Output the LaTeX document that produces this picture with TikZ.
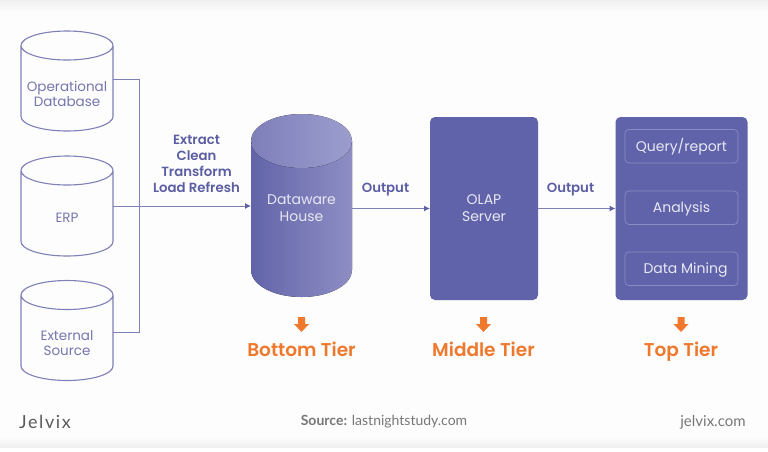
\documentclass[tikz,border=0pt]{standalone}
\usepackage{fontspec}
\setmainfont{Poppins}[BoldFont={Poppins SemiBold}]
\newfontfamily\footfont{Lato}
\newfontfamily\logofont{Lato}[LetterSpace=9]
\usetikzlibrary{arrows.meta,positioning}
\definecolor{bgc}{HTML}{FDFDFD}
\definecolor{edgec}{HTML}{F0F0F0}
\definecolor{cyl}{HTML}{8080B8}
\definecolor{lnc}{HTML}{8080B8}
\definecolor{tipc}{HTML}{5F60A8}
\definecolor{pan}{HTML}{6163AA}
\definecolor{inner}{HTML}{8A8CC2}
\definecolor{lab}{HTML}{7676AE}
\definecolor{blab}{HTML}{5C5EA3}
\definecolor{wt}{HTML}{E8E8F4}
\definecolor{org}{HTML}{F0782D}
\definecolor{grayt}{HTML}{777777}
\definecolor{dl}{HTML}{6264A9}
\definecolor{dr}{HTML}{8E8EC4}
\definecolor{tl}{HTML}{7E7FB9}
\definecolor{tr}{HTML}{9C9DCE}
\tikzset{
  every node/.style={inner sep=0pt,outer sep=0pt,align=center},
  cylbox/.style={minimum width=92pt,minimum height=100pt},
  celabel/.style={font=\fontsize{13.5}{15.5}\selectfont,text=lab},
  bluelabel/.style={font=\fontsize{13.3}{16}\selectfont\bfseries,text=blab},
  whitelabel/.style={font=\fontsize{14}{17}\selectfont,text=wt},
  panel/.style={fill=pan,rounded corners=5pt},
  innerbox/.style={draw=inner,line width=.7pt,rounded corners=4pt,minimum width=113pt,minimum height=33.5pt,text height=10pt,text depth=0pt},
  tier/.style={font=\fontsize{18.5}{20}\selectfont\bfseries,text=org,anchor=base},
  conn/.style={draw=lnc,line width=1pt},
  arr/.style={conn,-{Latex[length=6pt,width=6pt,color=tipc]}},
  foot/.style={font=\footfont\fontsize{14}{16}\selectfont,text=grayt},
}
\newcommand{\dbcyl}[5]{% name, center x, center y, label y, label
  \node[cylbox] (#1) at (#2,#3) {};
  \node[celabel] (#1t) at (#2,#4) {#5};
  \draw[cyl,line width=1.1pt]
    ([yshift=-14.5pt]#1.north west) -- ([yshift=14.5pt]#1.south west)
    arc[start angle=180,end angle=360,x radius=46pt,y radius=14.5pt]
    -- ([yshift=-14.5pt]#1.north east)
    arc[start angle=0,end angle=360,x radius=46pt,y radius=14.5pt];
}
\newcommand{\tierarrow}[2]{% cx, top y
  \fill[org] (#1-3.5,#2) -- (#1+3.5,#2) -- (#1+3.5,#2+7) -- (#1+7.5,#2+7) -- (#1,#2+15) -- (#1-7.5,#2+7) -- (#1-3.5,#2+7) -- cycle;
}
\begin{document}
\begin{tikzpicture}[x=1pt,y=-1pt]
\useasboundingbox (0,0) rectangle (768,451);
\fill[bgc] (0,0) rectangle (768,451);
\fill[top color=edgec,bottom color=bgc] (0,0) rectangle (768,12);
\fill[top color=bgc,bottom color=edgec] (0,436) rectangle (768,447);
\fill[white] (0,448) rectangle (768,451);

\dbcyl{op}{67}{81}{94}{Operational\\Database}
\dbcyl{erp}{67}{206}{218}{ERP}
\dbcyl{ext}{67}{330.5}{343}{External\\Source}

% Warehouse cylinder
\node[minimum width=101pt,minimum height=183pt] (dw) at (301.5,205.5) {};
\fill[left color=dl,right color=dr]
  ([yshift=-27pt]dw.north west) -- ([yshift=27pt]dw.south west)
  arc[start angle=180,end angle=360,x radius=50.5pt,y radius=27pt]
  -- ([yshift=-27pt]dw.north east) -- cycle;
\fill[left color=tl,right color=tr]
  ([yshift=-27pt]dw.north west) arc[start angle=180,end angle=-180,x radius=50.5pt,y radius=27pt];
\node[whitelabel] (dwt) at (301.5,208.5) {Dataware\\House};

% OLAP
\node[panel,minimum width=108pt,minimum height=183pt,whitelabel] (olap) at (484,208.5) {OLAP\\Server};

% Top tier
\node[panel,minimum width=132pt,minimum height=183pt] (top) at (681.5,208.5) {};
\node[innerbox,whitelabel] (qr) at (681.5,146.25) {Query/report};
\node[innerbox,whitelabel] (an) at (681.5,207.75) {Analysis};
\node[innerbox,whitelabel] (dm) at (681.5,268.75) {\hspace{8pt}Data Mining};

% Connectors
\coordinate (jn) at (139,206);
\coordinate (opout) at ([yshift=2pt]op.east);
\coordinate (extout) at ([yshift=-1.5pt]ext.east);
\coordinate (dwout) at (dw.east |- olap.west);
\draw[conn] (opout) -| (jn);
\draw[conn] (extout) -| (jn);
\draw[arr] (erp.east) -- (dw.west |- erp.east);
\draw[arr] (dwout) -- (olap.west);
\draw[arr] (olap.east) -- (top.west);

% Labels
\node[bluelabel] (etl) at (196.5,164) {Extract\\Clean\\Transform\\Load Refresh};
\node[bluelabel] (o1) at (385.5,189.5) {Output};
\node[bluelabel] (o2) at (570.5,189.5) {Output};

% Tier arrows and labels
\tierarrow{301.5}{317}
\tierarrow{483.5}{317}
\tierarrow{681}{317}
\node[tier] (bt) at (301.5,356.5) {Bottom Tier};
\node[tier] (mt) at (483.5,356.5) {Middle Tier};
\node[tier] (tt) at (681,356.5) {Top Tier};

% Footer
\node[font=\logofont\fontsize{18}{20}\selectfont,text=black!65] (jx) at (45,421.5) {Jelvix};
\node[foot] (src) at (384,422) {\textbf{Source:} lastnightstudy.com};
\node[foot,font=\footfont\fontsize{15}{16}\selectfont] (jc) at (713,422) {jelvix.com};
\end{tikzpicture}
\end{document}
